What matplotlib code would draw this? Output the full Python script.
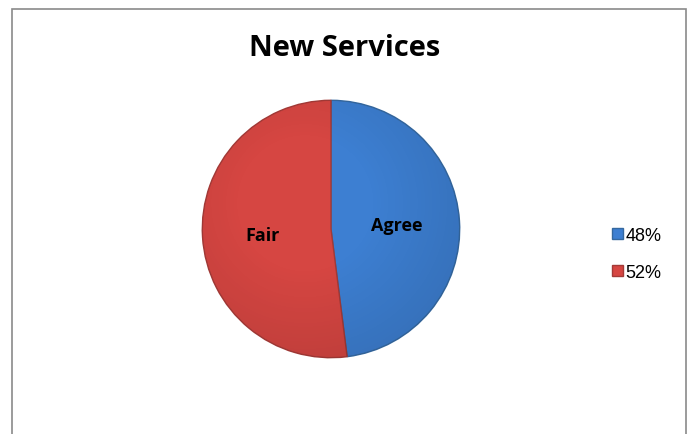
import matplotlib.pyplot as plt
from matplotlib.patches import Rectangle, Circle
import numpy as np

# data
labels = ['Agree', 'Fair']
shares = [48, 52]
legend_labels = ['48%', '52%']
colors = ['#3d7fd2', '#d64642']
edge_colors = ['#35689f', '#a33a37']

W, H = 689, 435
fig = plt.figure(figsize=(W / 100, H / 100), dpi=100)

# chart border (bottom edge runs off the image)
fig.patches.append(Rectangle((12 / W, -0.05), (686 - 12) / W, 1.05 - 10 / H,
                             transform=fig.transFigure, fill=False,
                             edgecolor='#8a8a8a', linewidth=1.2))

fig.text(345 / W, 1 - 49 / H, 'New Services', ha='center', va='center',
         fontsize=21, fontweight='bold', family='Open Sans')

# pie axes: center (331, 230) px, radius 130 px
cx, cy, r = 331, 230, 130
ax = fig.add_axes([(cx - r) / W, 1 - (cy + r) / H, 2 * r / W, 2 * r / H])
wedges, _ = ax.pie(shares, colors=colors, startangle=90, counterclock=False,
                   radius=1.0, wedgeprops=dict(linewidth=1.0))
for w, ec in zip(wedges, edge_colors):
    w.set_edgecolor(ec)

# soft shading to mimic the bevel look
yy, xx = np.mgrid[-1:1:300j, -1:1:300j]
dist = np.sqrt((xx + 0.2) ** 2 + (yy - 0.2) ** 2)
shade = np.clip((dist - 0.5) / 1.1, 0, 1)
overlay = np.zeros((300, 300, 4))
overlay[..., 3] = shade * 0.15
im = ax.imshow(overlay, extent=[-1, 1, -1, 1], origin='lower', zorder=3)
im.set_clip_path(Circle((0, 0), 1.0, transform=ax.transData))

ax.text(0.51, 0.03, labels[0], ha='center', va='center', fontsize=13,
        fontweight='bold', family='Open Sans', zorder=4)
ax.text(-0.53, -0.05, labels[1], ha='center', va='center', fontsize=13,
        fontweight='bold', family='Open Sans', zorder=4)

ax.set_xlim(-1.01, 1.01)
ax.set_ylim(-1.01, 1.01)
ax.set_aspect('equal')
ax.axis('off')

fig.legend(wedges, legend_labels, loc='center left',
           bbox_to_anchor=(596 / W, 1 - 255 / H), frameon=False,
           handlelength=0.6, handleheight=0.6,
           handletextpad=0.15, labelspacing=1.1,
           prop={'family': 'Liberation Sans', 'size': 13})

fig.savefig('out.png', dpi=100)
